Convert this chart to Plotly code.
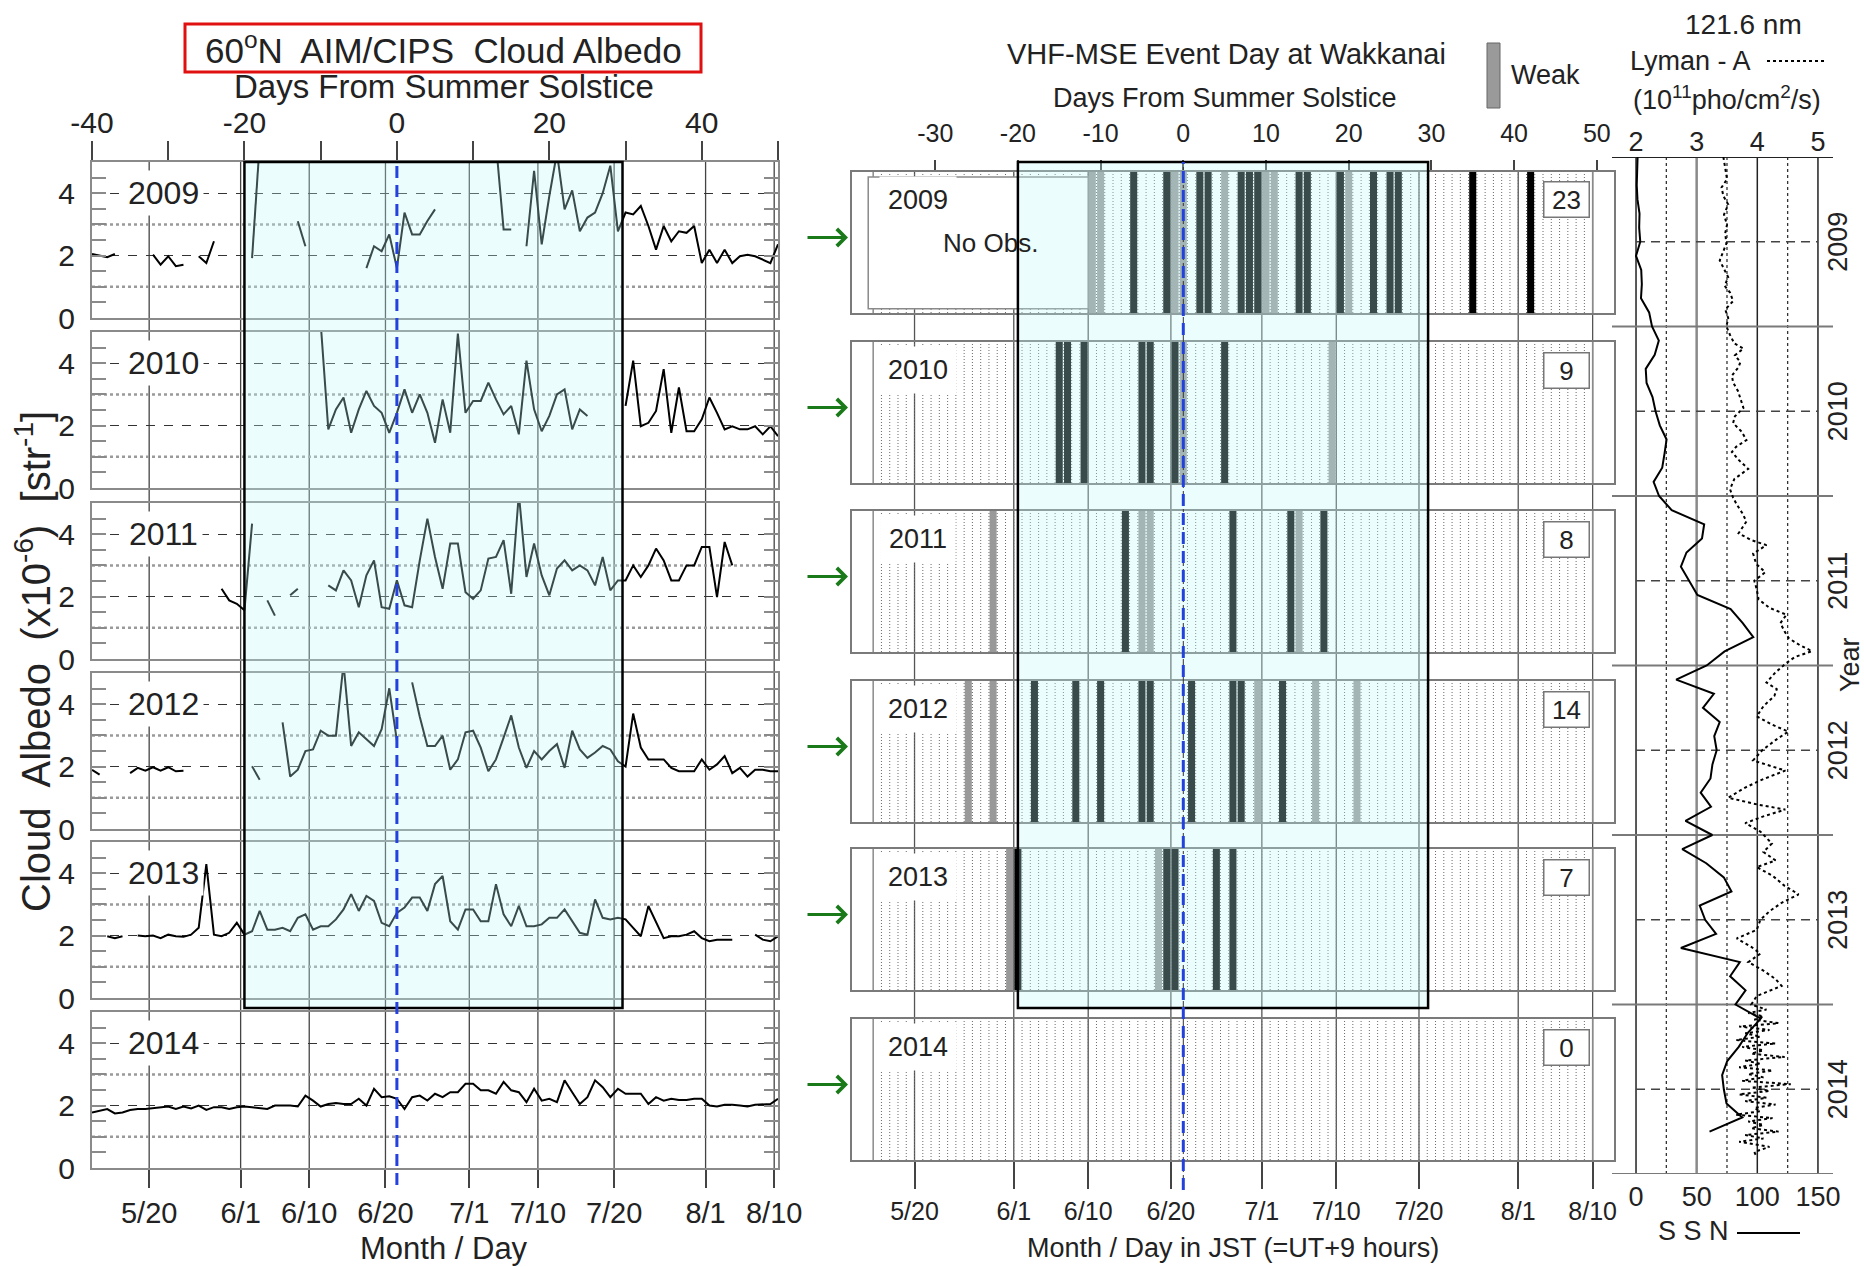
import plotly.graph_objects as go

W, H = 1864, 1267
N = None

# ---------------- data ----------------
days = list(range(-40, 51))
years = [2009, 2010, 2011, 2012, 2013, 2014]

alb_2009 = [
    2.05, 2.00, 1.95, 2.05, N, N, N, N, 2.03, 1.71,
    1.98, 1.66, 1.71, N, 1.98, 1.76, 2.46, N, N, N,
    N, 1.92, 5.6, N, N, N, N, 3.10, 2.30, N,
    N, N, N, N, N, N, 1.60, 2.30, 2.14, 2.68,
    1.60, 3.38, 2.68, 2.68, 3.11, 3.48, N, N, N, N,
    N, N, N, 5.6, 2.84, 2.84, N, 2.30, 4.72, 2.36,
    3.91, 5.3, 3.48, 4.09, 2.78, 3.22, 3.38, 4.00, 4.88, 2.78,
    3.38, 3.32, 3.59, 2.95, 2.19, 2.95, 2.46, 2.78, 2.73, 2.95,
    1.76, 2.19, 1.76, 2.19, 1.76, 1.98, 2.03, 1.98, 1.87, 1.76,
    2.36]
alb_2010 = [
    N, N, N, N, N, N, N, N, N, N,
    N, N, N, N, N, N, N, N, N, N,
    N, N, N, N, N, N, N, N, N, N,
    5.3, 1.88, 2.52, 2.90, 1.77, 2.52, 3.11, 2.63, 2.41, 1.77,
    2.41, 3.16, 2.41, 3.00, 2.41, 1.45, 2.84, 1.77, 4.95, 2.41,
    2.79, 2.79, 3.38, 2.84, 2.36, 2.63, 1.72, 4.08, 2.52, 1.82,
    2.31, 3.00, 3.16, 1.88, 2.52, 2.31, N, N, N, N,
    2.63, 4.08, 1.98, 2.09, 2.47, 3.81, 1.77, 3.22, 1.82, 1.82,
    2.20, 2.90, 2.41, 1.88, 1.98, 1.88, 1.88, 1.98, 1.72, 1.98,
    1.66]
alb_2011 = [
    N, N, N, N, N, N, N, N, N, N,
    N, N, N, N, N, N, N, 2.25, 1.88, 1.77,
    1.56, 4.34, N, 1.88, 1.39, N, 2.04, 2.25, N, N,
    N, 2.36, 2.20, 2.84, 2.52, 1.66, 2.68, 3.16, 1.66, 1.61,
    2.52, 1.72, 1.66, 3.16, 4.50, 3.27, 2.25, 3.70, 3.70, 2.14,
    1.93, 2.20, 3.22, 3.27, 3.81, 2.09, 5.3, 2.63, 3.70, 2.68,
    2.04, 2.90, 3.16, 2.84, 3.00, 2.84, 2.36, 3.27, 2.20, 2.52,
    2.52, 3.00, 2.63, 3.00, 3.54, 3.16, 2.52, 2.52, 3.00, 3.00,
    3.59, 3.59, 1.98, 3.75, 3.00, N, N, N, N, N,
    N]
alb_2012 = [
    1.90, 1.74, N, N, N, 1.79, 1.96, 1.87, 1.98, 1.87,
    1.98, 1.85, 1.87, N, N, N, N, N, N, N,
    N, 2.01, 1.58, N, N, 3.42, 1.68, 1.90, 2.50, 2.55,
    3.15, 2.99, 2.99, 5.3, 2.66, 3.10, 2.88, 2.66, 3.20, 4.51,
    2.83, N, 4.70, 3.60, 2.66, 2.66, 2.99, 1.90, 2.23, 3.10,
    3.15, 2.61, 1.85, 2.23, 2.93, 3.64, 2.61, 1.96, 2.50, 2.23,
    2.50, 2.72, 1.96, 3.15, 2.55, 2.28, 2.45, 2.66, 2.55, 2.17,
    2.00, 3.70, 2.61, 2.23, 2.23, 2.23, 1.96, 1.85, 1.85, 1.85,
    2.23, 1.90, 2.07, 2.34, 1.79, 1.96, 1.68, 1.90, 1.90, 1.85,
    1.85]
alb_2013 = [
    N, N, 1.98, 1.92, 1.98, N, 2.00, 1.98, 2.00, 1.92,
    2.03, 1.98, 1.96, 2.03, 2.25, 4.29, 2.03, 1.98, 2.09, 2.41,
    2.03, 2.14, 2.79, 2.19, 2.19, 2.25, 2.14, 2.57, 2.68, 2.19,
    2.30, 2.30, 2.52, 2.84, 3.33, 2.79, 3.27, 3.11, 2.41, 2.30,
    2.73, 2.90, 3.22, 3.22, 2.79, 3.65, 3.91, 2.46, 2.19, 2.84,
    2.84, 2.46, 2.46, 3.65, 2.68, 2.30, 2.95, 2.30, 2.30, 2.36,
    2.57, 2.57, 2.84, 2.46, 2.09, 2.03, 3.16, 2.57, 2.52, 2.57,
    2.52, 2.25, 1.98, 2.95, 2.41, 1.92, 1.98, 1.98, 2.03, 2.14,
    1.92, 1.82, 1.87, 1.87, 1.87, N, N, 2.03, 1.87, 1.82,
    1.98]
alb_2014 = [
    1.78, 1.84, 1.89, 1.75, 1.78, 1.86, 1.89, 1.89, 1.91, 1.95,
    1.97, 1.89, 1.97, 1.91, 2.00, 1.86, 1.95, 1.95, 1.89, 1.95,
    1.97, 1.95, 1.93, 1.89, 2.00, 2.00, 2.00, 1.97, 2.32, 2.16,
    1.97, 2.05, 2.08, 2.05, 2.05, 2.22, 2.00, 2.54, 2.27, 2.30,
    2.22, 1.89, 2.27, 2.32, 2.16, 2.38, 2.27, 2.43, 2.43, 2.70,
    2.70, 2.49, 2.49, 2.38, 2.76, 2.49, 2.43, 2.11, 2.54, 2.16,
    2.22, 2.11, 2.81, 2.43, 2.05, 2.27, 2.81, 2.59, 2.27, 2.54,
    2.38, 2.38, 2.38, 2.05, 2.27, 2.16, 2.22, 2.18, 2.18, 2.22,
    2.22, 2.00, 1.97, 2.03, 2.03, 2.00, 1.97, 2.03, 2.05, 2.05,
    2.22]
albedo = [alb_2009, alb_2010, alb_2011, alb_2012, alb_2013, alb_2014]

# VHF-MSE event days (days from solstice)
strong_2009 = [-6, -2, 2, 3, 7, 8, 9, 14, 15, 19, 23, 25, 26, 35, 42]
weak_2009 = [-11, -10, -1, 0, 5, 10, 11, 20]
strong_2010 = [-15, -14, -12, -5, -4, -1, 5]
weak_2010 = [0, 18]
strong_2011 = [-7, 6, 13, 17]
weak_2011 = [-23, -5, -4, 14]
strong_2012 = [-18, -13, -10, -5, -4, 1, 6, 7, 12]
weak_2012 = [-26, -23, 9, 16, 21]
strong_2013 = [-20, -2, -1, 4, 6]
weak_2013 = [-21, -3]
strong_2014 = []
weak_2014 = []
strong = [strong_2009, strong_2010, strong_2011, strong_2012, strong_2013, strong_2014]
weak = [weak_2009, weak_2010, weak_2011, weak_2012, weak_2013, weak_2014]
no_obs_2009_end = -11.5

month_labels = ["5/20", "6/1", "6/10", "6/20", "7/1", "7/10", "7/20", "8/1", "8/10"]
month_days = [-32, -20, -11, -1, 10, 19, 29, 41, 50]
top_ticks_left = [-40, -20, 0, 20, 40]
top_ticks_mid = [-30, -20, -10, 0, 10, 20, 30, 40, 50]

# monthly sunspot number
ssn_2009 = [1.3, 1.2, 0.6, 1.2, 2.9, 2.6, 3.5, 0.0, 4.3, 4.8, 4.1, 10.8]
ssn_2010 = [13.2, 18.8, 15.4, 8.0, 8.7, 13.6, 16.1, 19.6, 25.2, 23.5, 21.6, 14.5]
ssn_2011 = [19.0, 29.4, 56.2, 54.4, 41.6, 37.0, 43.9, 50.6, 78.0, 88.0, 96.7, 73.0]
ssn_2012 = [58.3, 33.1, 64.2, 55.2, 69.0, 64.5, 66.5, 63.0, 61.4, 53.3, 61.8, 40.8]
ssn_2013 = [62.9, 38.1, 57.9, 72.4, 78.7, 52.5, 57.0, 66.0, 37.0, 85.6, 77.6, 90.3]
ssn_2014 = [82.0, 102.8, 92.2, 84.7, 75.2, 71.0, 72.4, 74.6, 87.6, 60.6]
ssn_years = [ssn_2009, ssn_2010, ssn_2011, ssn_2012, ssn_2013, ssn_2014]

# Lyman-alpha (1e11 photons/cm2/s)
lyman_t = [2009.00, 2009.07, 2009.13, 2009.18, 2009.23, 2009.28, 2009.34, 2009.40, 2009.45, 2009.51,
           2009.57, 2009.61, 2009.66, 2009.71, 2009.76, 2009.80, 2009.85, 2009.90, 2009.95, 2010.00,
           2010.05, 2010.10, 2010.13, 2010.17, 2010.21, 2010.24, 2010.29, 2010.33, 2010.38, 2010.43,
           2010.48, 2010.53, 2010.57, 2010.62, 2010.67, 2010.71, 2010.74, 2010.79, 2010.84, 2010.90,
           2010.96, 2011.01, 2011.05, 2011.10, 2011.15, 2011.22, 2011.26, 2011.29, 2011.34, 2011.40,
           2011.45, 2011.50, 2011.55, 2011.61, 2011.66, 2011.70, 2011.75, 2011.80, 2011.84, 2011.88,
           2011.915, 2011.95, 2011.985, 2012.04, 2012.10, 2012.14, 2012.18, 2012.24, 2012.30, 2012.35,
           2012.39, 2012.44, 2012.50, 2012.56, 2012.62, 2012.67, 2012.72, 2012.78, 2012.82, 2012.85,
           2012.89, 2012.93, 2012.98, 2013.05, 2013.10, 2013.15, 2013.19, 2013.24, 2013.30, 2013.35,
           2013.40, 2013.45, 2013.50, 2013.56, 2013.61, 2013.66, 2013.70, 2013.75, 2013.80, 2013.85,
           2013.89, 2013.95, 2014.00, 2014.03, 2014.05, 2014.07, 2014.09, 2014.11, 2014.13, 2014.15,
           2014.17, 2014.19, 2014.21, 2014.23, 2014.25, 2014.27, 2014.29, 2014.31, 2014.33, 2014.35,
           2014.37, 2014.39, 2014.41, 2014.43, 2014.45, 2014.47, 2014.49, 2014.51, 2014.53, 2014.55,
           2014.57, 2014.59, 2014.61, 2014.63, 2014.65, 2014.67, 2014.69, 2014.71, 2014.73, 2014.75,
           2014.77, 2014.79, 2014.81, 2014.84, 2014.87, 2014.90]
lyman_v = [3.44, 3.47, 3.50, 3.41, 3.44, 3.52, 3.45, 3.50, 3.47, 3.49,
           3.42, 3.38, 3.45, 3.52, 3.46, 3.55, 3.60, 3.47, 3.52, 3.49,
           3.55, 3.62, 3.77, 3.63, 3.72, 3.69, 3.58, 3.60, 3.68, 3.72,
           3.77, 3.63, 3.60, 3.74, 3.82, 3.65, 3.58, 3.70, 3.85, 3.62,
           3.55, 3.60, 3.66, 3.75, 3.82, 3.69, 3.90, 4.15, 3.93, 3.98,
           4.13, 3.95, 3.99, 4.02, 4.20, 4.48, 4.38, 4.45, 4.52, 4.70,
           4.90, 4.62, 4.48, 4.30, 4.15, 4.32, 4.28, 4.10, 3.99, 4.25,
           4.51, 4.30, 4.08, 3.93, 4.46, 4.10, 3.80, 3.52, 4.00, 4.46,
           4.10, 3.80, 4.05, 4.24, 4.10, 4.30, 3.99, 4.25, 4.45, 4.68,
           4.40, 4.20, 4.05, 3.99, 3.66, 3.90, 4.05, 3.85, 4.10, 4.30,
           4.40, 3.99, 3.90, 4.15, 3.85, 4.10, 3.95, 4.35, 3.70, 4.20,
           3.80, 4.05, 3.65, 4.30, 3.75, 4.10, 3.90, 4.45, 3.80, 4.05,
           3.70, 4.25, 3.85, 4.10, 3.75, 4.55, 3.90, 4.20, 3.70, 4.15,
           3.80, 4.30, 3.95, 4.05, 3.65, 4.25, 3.85, 4.10, 3.90, 4.35,
           3.80, 4.10, 3.70, 4.20, 3.95, 3.99]

# ---------------- layout geometry (pixels) ----------------
REG = "Liberation Sans, Arial, Helvetica, sans-serif"
NAR = REG
TXT = "#222222"

L_X0, L_X1 = 92, 778
L_tops = [162, 332, 503, 673, 842, 1012]
L_h = 156
M_X0, M_X1 = 851.6, 1614.4
M_range = [-40.11, 52.13]
M_tops = [172, 342, 511, 681, 849, 1019]
M_h = 141
R_X0, R_X1 = 1612, 1833
R_TOP, R_BOT = 157, 1174
BOX_TOP, BOX_BOT = 162, 1008
BOX_D0, BOX_D1 = -20.0, 29.6


def xd(a, b):
    return [a / W, b / W]


def yd(top, bot):
    return [1 - bot / H, 1 - top / H]


def py(p):
    return 1 - p / H


def r(prefix, i):
    return prefix + ("" if i == 1 else str(i))


fig = go.Figure()
layout = dict(width=W, height=H, margin=dict(l=0, r=0, t=0, b=0, pad=0, autoexpand=False), autosize=False,
              paper_bgcolor="white", plot_bgcolor="rgba(0,0,0,0)", showlegend=False,
              barmode="overlay")
shapes = []
anns = []


def ann(text, x, y, size=30, fam=REG, **kw):
    d = dict(text=text, x=x / W, y=py(y), xref="paper", yref="paper", showarrow=False,
             font=dict(family=fam, size=size, color=TXT), xanchor="center", yanchor="middle")
    d.update(kw)
    return d


# ---------------- left column: cloud albedo ----------------
for k, yr in enumerate(years):
    i = k + 1
    top = L_tops[k]
    xa = dict(domain=xd(L_X0, L_X1), range=[-40, 50], anchor=r("y", i), showline=True, mirror=True,
              linecolor="#8a8a8a", linewidth=2, showgrid=False, zeroline=False, ticks="",
              showticklabels=False, fixedrange=True, automargin=False)
    if k == 0:
        xa.update(side="top", ticks="outside", ticklen=19, tickwidth=1.5, tickcolor="#444",
                  tickvals=top_ticks_left, ticktext=[str(t) for t in top_ticks_left], showticklabels=True,
                  tickfont=dict(family=REG, size=30, color=TXT), ticklabelstandoff=-4,
                  minor=dict(tick0=-40, dtick=10, ticks="outside", ticklen=19, tickwidth=1.5,
                             tickcolor="#444", showgrid=False))
    if k == 5:
        xa.update(side="bottom", ticks="outside", ticklen=18, tickwidth=1.5, tickcolor="#444",
                  tickvals=[m - 0.5 for m in month_days], ticktext=month_labels, showticklabels=True,
                  tickfont=dict(family=REG, size=29, color=TXT), ticklabelstandoff=0)
    ya = dict(domain=yd(top, top + L_h), range=[0, 5], anchor=r("x", i), showline=True, mirror="ticks",
              linecolor="#8a8a8a", linewidth=2, ticks="inside", ticklen=14, tickwidth=2, tickcolor="#8a8a8a",
              tickvals=[0, 2, 4], ticktext=["0", "2", "4"], tickfont=dict(family=REG, size=30, color=TXT),
              showgrid=True, gridcolor="#333", griddash="dash", gridwidth=1.2, zeroline=False,
              minor=dict(dtick=0.5, ticks="inside", ticklen=14, tickwidth=2, tickcolor="#8a8a8a", showgrid=False),
              ticklabelstandoff=9, fixedrange=True, automargin=False)
    layout["xaxis" + ("" if i == 1 else str(i))] = xa
    layout["yaxis" + ("" if i == 1 else str(i))] = ya
    for gv in (1, 3):
        shapes.append(dict(type="line", xref=r("x", i), yref=r("y", i), x0=-40, x1=50, y0=gv, y1=gv,
                           layer="below", line=dict(color="#9a9a9a", width=2.5, dash="dot")))
    fig.add_trace(go.Scatter(x=days, y=albedo[k], mode="lines", connectgaps=False,
                             line=dict(color="black", width=2), xaxis=r("x", i), yaxis=r("y", i),
                             hoverinfo="skip"))
    anns.append(ann(str(yr), 163, top + L_h * 0.2, size=32, bgcolor="white", borderpad=4))

for m in month_days:
    shapes.append(dict(type="line", xref="x", yref="paper", x0=m - 0.5, x1=m - 0.5,
                       y0=py(L_tops[-1] + L_h), y1=py(L_tops[0]), layer="below",
                       line=dict(color="#444", width=1.3)))

# ---------------- middle column: VHF-MSE events ----------------
bounds = [d + 0.5 for d in range(-37, 49)]
for k, yr in enumerate(years):
    i = k + 7
    top = M_tops[k]
    xa = dict(domain=xd(M_X0, M_X1), range=M_range, anchor=r("y", i), showline=True, mirror=True,
              linecolor="#7a7a7a", linewidth=2, showgrid=False, zeroline=False, ticks="",
              showticklabels=False, fixedrange=True, automargin=False)
    if k == 0:
        xa.update(side="top", ticks="outside", ticklen=10, tickwidth=1.5, tickcolor="#444",
                  tickvals=top_ticks_mid, ticktext=[str(t) for t in top_ticks_mid], showticklabels=True,
                  tickfont=dict(family=NAR, size=25, color=TXT), ticklabelstandoff=8)
    if k == 5:
        xa.update(side="bottom", ticks="outside", ticklen=27, tickwidth=1.5, tickcolor="#444",
                  tickvals=[m - 0.5 for m in month_days], ticktext=month_labels, showticklabels=True,
                  tickfont=dict(family=NAR, size=25, color=TXT), ticklabelstandoff=1)
    ya = dict(domain=yd(top, top + M_h), range=[0, 1], anchor=r("x", i), showline=True, mirror=True,
              linecolor="#7a7a7a", linewidth=2, ticks="", showticklabels=False, showgrid=False,
              zeroline=False, fixedrange=True, automargin=False)
    layout["xaxis" + str(i)] = xa
    layout["yaxis" + str(i)] = ya
    xs, ys = [], []
    for b in bounds:
        xs += [b, b, None]
        ys += [0, 1, None]
    fig.add_trace(go.Scatter(x=xs, y=ys, mode="lines", line=dict(color="#6a6a6a", width=1, dash="1px,2px"),
                             xaxis=r("x", i), yaxis=r("y", i), hoverinfo="skip"))
    for b in (-37.5, 49.5):
        shapes.append(dict(type="line", xref=r("x", i), yref=r("y", i), x0=b, x1=b, y0=0, y1=1,
                           layer="below", line=dict(color="#8a8a8a", width=1.5)))
    ev = strong[k] + weak[k]
    cols = ["black"] * len(strong[k]) + ["#999999"] * len(weak[k])
    if ev:
        fig.add_trace(go.Bar(x=ev, y=[1] * len(ev), base=0, width=0.85, marker=dict(color=cols, line_width=0),
                             xaxis=r("x", i), yaxis=r("y", i), hoverinfo="skip"))
    if k == 0:
        shapes.append(dict(type="rect", xref=r("x", i), yref=r("y", i), x0=-38.1, x1=no_obs_2009_end,
                           y0=0.03, y1=0.965, layer="above", fillcolor="white",
                           line=dict(color="#8a8a8a", width=1.5)))
        anns.append(ann("No Obs.", 991, 243, size=26, fam=NAR))
    anns.append(ann(str(yr), 918, top + 28, size=27, fam=NAR, bgcolor="white", borderpad=8))
    anns.append(ann(str(len(ev)), 1566, top + 28, size=26, fam=NAR, bgcolor="white",
                    bordercolor="#777", borderwidth=1.5, borderpad=3, width=38, height=28))

for m in month_days:
    shapes.append(dict(type="line", xref="x7", yref="paper", x0=m - 0.5, x1=m - 0.5,
                       y0=py(M_tops[-1] + M_h), y1=py(M_tops[0]), layer="below",
                       line=dict(color="#555", width=1.3)))

# cyan highlight boxes (semi transparent overlay) and solstice lines
for xr in ("x", "x7"):
    shapes.append(dict(type="rect", xref=xr, yref="paper", x0=BOX_D0, x1=BOX_D1, y0=py(BOX_BOT), y1=py(BOX_TOP),
                       layer="above", fillcolor="rgba(193,247,247,0.3)", line=dict(color="black", width=2.5)))
shapes.append(dict(type="line", xref="x7", yref="paper", x0=0, x1=0, y0=py(1190), y1=py(162), layer="above",
                   line=dict(color="#333", width=1, dash="dashdot")))
shapes.append(dict(type="line", xref="x", yref="paper", x0=0, x1=0, y0=py(1185), y1=py(162), layer="above",
                   line=dict(color="#2342dd", width=3, dash="12px,7px")))
shapes.append(dict(type="line", xref="x7", yref="paper", x0=0, x1=0, y0=py(1190), y1=py(162), layer="above",
                   line=dict(color="#2342dd", width=3, dash="12px,7px")))

# ---------------- right column: SSN and Lyman-alpha ----------------
layout["xaxis13"] = dict(domain=xd(R_X0, R_X1), range=[-19.8, 162.4], anchor="y13", side="bottom",
                         showline=False, showgrid=False, zeroline=False, ticks="",
                         tickvals=[0, 50, 100, 150], tickfont=dict(family=REG, size=27, color=TXT),
                         ticklabelstandoff=4, fixedrange=True, automargin=False)
layout["xaxis14"] = dict(overlaying="x13", range=[1.604, 5.247], anchor="y13", side="top",
                         showline=False, showgrid=False, zeroline=False, ticks="",
                         tickvals=[2, 3, 4, 5], tickfont=dict(family=REG, size=27, color=TXT),
                         ticklabelstandoff=0, fixedrange=True, automargin=False)
layout["yaxis13"] = dict(domain=yd(R_TOP, R_BOT), range=[2015, 2009], anchor="x13", showline=False,
                         showgrid=False, zeroline=False, showticklabels=False, ticks="", fixedrange=True,
                         automargin=False)

for sv, col, wd in ((0, "#222", 1.5), (50, "#8a8a8a", 2.5), (100, "#222", 1.5), (150, "#222", 1.5)):
    shapes.append(dict(type="line", xref="x13", yref="y13", x0=sv, x1=sv, y0=2009, y1=2015, layer="below",
                       line=dict(color=col, width=wd)))
for sv in (25, 75, 125):
    shapes.append(dict(type="line", xref="x13", yref="y13", x0=sv, x1=sv, y0=2009, y1=2015, layer="below",
                       line=dict(color="#333", width=1.3, dash="3px,3px")))
for j in range(7):
    shapes.append(dict(type="line", xref="x13", yref="y13", x0=-19.8, x1=162.4, y0=2009 + j, y1=2009 + j,
                       layer="below", line=dict(color="#222" if j == 0 else "#7a7a7a", width=2)))
for j in range(6):
    shapes.append(dict(type="line", xref="x13", yref="y13", x0=0, x1=150, y0=2009.5 + j, y1=2009.5 + j,
                       layer="below", line=dict(color="#444", width=1.3, dash="9px,6px")))

ssn_t, ssn_v = [], []
for j, vals in enumerate(ssn_years):
    for m, v in enumerate(vals):
        ssn_t.append(2009 + j + m / 12.0)
        ssn_v.append(v)
fig.add_trace(go.Scatter(x=ssn_v, y=ssn_t, mode="lines", line=dict(color="black", width=2),
                         xaxis="x13", yaxis="y13", hoverinfo="skip"))
fig.add_trace(go.Scatter(x=lyman_v, y=lyman_t, mode="lines", line=dict(color="black", width=2, dash="3px,3px"),
                         xaxis="x14", yaxis="y13", hoverinfo="skip"))

for j, yr in enumerate(years):
    anns.append(ann(str(yr), 1838, R_TOP + (j + 0.5) * (R_BOT - R_TOP) / 6, size=27, textangle=-90))
anns.append(ann("Year", 1850, 665, size=27, textangle=-90))
anns.append(ann("121.6 nm", 1743, 24, size=28))
anns.append(ann("Lyman - A", 1690, 61, size=27))
anns.append(ann("(10<sup>11</sup>pho/cm<sup>2</sup>/s)", 1727, 98, size=27))
anns.append(ann("S S N", 1693, 1231, size=27))
shapes.append(dict(type="line", xref="paper", yref="paper", x0=1767 / W, x1=1827 / W, y0=py(61), y1=py(61),
                   line=dict(color="black", width=2, dash="3px,3px")))
shapes.append(dict(type="line", xref="paper", yref="paper", x0=1737 / W, x1=1800 / W, y0=py(1233), y1=py(1233),
                   line=dict(color="black", width=2)))

# ---------------- titles and labels ----------------
anns.append(ann("60<sup>o</sup>N  AIM/CIPS  Cloud Albedo", 443, 48, size=35))
shapes.append(dict(type="rect", xref="paper", yref="paper", x0=185 / W, x1=701 / W, y0=py(72), y1=py(24),
                   layer="above", line=dict(color="#e01010", width=3)))
anns.append(ann("Days From Summer Solstice", 444, 86, size=33))
anns.append(ann("Month / Day", 444, 1248, size=31))
anns.append(ann("Cloud  Albedo  (x10<sup>-6</sup>)  [str<sup>-1</sup>]", 33, 662, size=40, textangle=-90))

anns.append(ann("VHF-MSE Event Day at Wakkanai", 1226, 54, size=29, fam=NAR))
anns.append(ann("Days From Summer Solstice", 1225, 98, size=27, fam=NAR))
anns.append(ann("Weak", 1545, 75, size=27, fam=NAR))
shapes.append(dict(type="rect", xref="paper", yref="paper", x0=1487 / W, x1=1500 / W, y0=py(108), y1=py(43),
                   fillcolor="#9a9a9a", line=dict(color="#666", width=1)))
anns.append(ann("Month / Day in JST (=UT+9 hours)", 1233, 1248, size=27, fam=NAR))

# green arrows
for k in range(6):
    yc = M_tops[k] + M_h / 2 - 5
    anns.append(dict(text="", x=848 / W, y=py(yc), xref="paper", yref="paper", showarrow=True,
                     ax=-42, ay=0, axref="pixel", ayref="pixel", arrowhead=4, arrowsize=1.1,
                     arrowwidth=3, arrowcolor="#1a7a1a"))

layout["shapes"] = shapes
layout["annotations"] = anns
fig.update_layout(**layout)
fig.write_html("out.html", include_plotlyjs=True, full_html=True)
